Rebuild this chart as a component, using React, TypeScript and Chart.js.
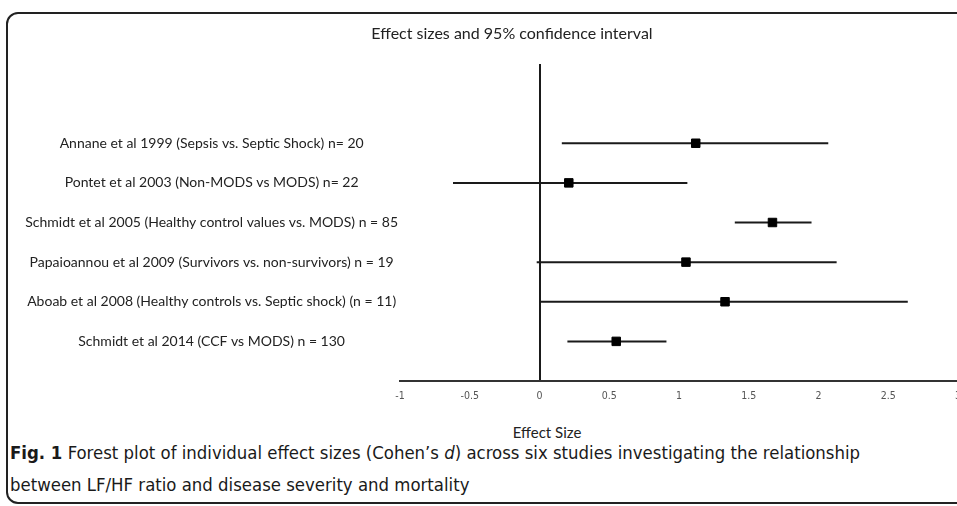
import React, { useEffect, useRef } from "react";
import { Chart, registerables } from "chart.js";

Chart.register(...registerables);

const studies: string[] = [
  "Annane et al 1999 (Sepsis vs. Septic Shock) n= 20",
  "Pontet et al 2003 (Non-MODS vs MODS) n= 22",
  "Schmidt et al 2005 (Healthy control values vs. MODS) n = 85",
  "Papaioannou et al 2009 (Survivors vs. non-survivors) n = 19",
  "Aboab et al 2008 (Healthy controls vs. Septic shock) (n = 11)",
  "Schmidt et al 2014 (CCF vs MODS) n = 130",
];
const effectSizes: number[] = [1.12, 0.21, 1.67, 1.05, 1.33, 0.55];
const lowerCI: number[] = [0.16, -0.62, 1.4, -0.02, 0.01, 0.2];
const upperCI: number[] = [2.07, 1.06, 1.95, 2.13, 2.64, 0.91];
const rowPositions: number[] = [6, 5, 4, 3, 2, 1];
const xTickValues: number[] = [-1, -0.5, 0, 0.5, 1, 1.5, 2, 2.5, 3];

const chartTitle = "Effect sizes and 95% confidence interval";
const xAxisTitle = "Effect Size";
const captionBold = "Fig. 1";
const captionRest = " Forest plot of individual effect sizes (Cohen\u2019s ";
const captionItalic = "d";
const captionEnd =
  ") across six studies investigating the relationship between LF/HF ratio and disease severity and mortality";

const LINE = "#1a1a1a";
const LABEL_FONT = "Lato, 'Open Sans', sans-serif";
const NARROW = "'Liberation Sans Narrow', 'DejaVu Sans Condensed', sans-serif";

export default function App() {
  const ref = useRef<HTMLCanvasElement | null>(null);

  useEffect(() => {
    if (!ref.current) return;
    const ciSets = studies.map((s, i) => ({
      label: s,
      data: [
        { x: lowerCI[i], y: rowPositions[i] },
        { x: upperCI[i], y: rowPositions[i] },
      ],
      showLine: true,
      borderColor: LINE,
      borderWidth: 2,
      pointRadius: 0,
    }));
    const chart = new Chart(ref.current, {
      type: "scatter",
      data: {
        datasets: [
          {
            label: "Effect size",
            data: effectSizes.map((v, i) => ({ x: v, y: rowPositions[i] })),
            pointStyle: "rect",
            pointRadius: 6,
            backgroundColor: "#000",
            borderColor: "#000",
            borderWidth: 1,
            showLine: false,
          },
          ...ciSets,
        ],
      },
      options: {
        responsive: false,
        animation: false,
        layout: { padding: { left: 0, right: 42, top: 64, bottom: 8.4 } },
        plugins: {
          legend: { display: false },
          tooltip: { enabled: false },
          title: { display: false },
        },
        scales: {
          x: {
            type: "linear",
            min: -1,
            max: 3,
            afterBuildTicks: (scale: any) => {
              scale.ticks = xTickValues.map((v) => ({ value: v }));
            },
            ticks: {
              color: "#555",
              padding: 9,
              font: { family: NARROW, size: 10.5, lineHeight: 1.2 },
              callback: (value: any) => String(Number(value)),
            },
            grid: {
              drawTicks: false,
              color: (ctx: any) => (ctx.tick && ctx.tick.value === 0 ? LINE : "rgba(0,0,0,0)"),
              lineWidth: 2,
            },
            border: { display: true, color: "#333", width: 2 },
          },
          y: {
            type: "linear",
            min: 0,
            max: 8,
            afterBuildTicks: (scale: any) => {
              scale.ticks = rowPositions.map((v) => ({ value: v }));
            },
            afterFit: (scale: any) => {
              scale.width = 400;
            },
            ticks: {
              color: "#222",
              crossAlign: "center",
              padding: 2,
              font: { family: LABEL_FONT, size: 14, lineHeight: 1.2 },
              callback: (value: any) => {
                const idx = rowPositions.indexOf(Number(value));
                return idx >= 0 ? studies[idx] : "";
              },
            },
            grid: { display: false, drawTicks: false },
            border: { display: false },
          },
        },
      },
    });
    return () => chart.destroy();
  }, []);

  return (
    <div
      style={{
        position: "fixed",
        left: 0,
        top: 0,
        width: 957,
        height: 506,
        overflow: "hidden",
        background: "#fff",
      }}
    >
      <div
        style={{
          position: "absolute",
          left: 6,
          top: 12,
          width: 1000,
          height: 492,
          border: "2px solid #222",
          borderRadius: 12,
          boxSizing: "border-box",
        }}
      />
      <canvas
        ref={ref}
        width={1000}
        height={420}
        style={{ position: "absolute", left: 0, top: 0, width: 1000, height: 420 }}
      />
      <div
        style={{
          position: "absolute",
          left: 312,
          width: 400,
          top: 22,
          textAlign: "center",
          fontFamily: LABEL_FONT,
          fontSize: 16,
          lineHeight: "22px",
          color: "#222",
        }}
      >
        {chartTitle}
      </div>
      <div
        style={{
          position: "absolute",
          left: 447,
          width: 200,
          top: 422,
          textAlign: "center",
          fontFamily: LABEL_FONT,
          fontSize: 15,
          lineHeight: "20px",
          color: "#222",
        }}
      >
        {xAxisTitle}
      </div>
      <div
        style={{
          position: "absolute",
          left: 10,
          top: 437,
          width: 880,
          fontFamily: NARROW,
          fontSize: 18.4,
          lineHeight: "32px",
          color: "#1a1a1a",
        }}
      >
        <b>{captionBold}</b>
        {captionRest}
        <i>{captionItalic}</i>
        {captionEnd}
      </div>
    </div>
  );
}
